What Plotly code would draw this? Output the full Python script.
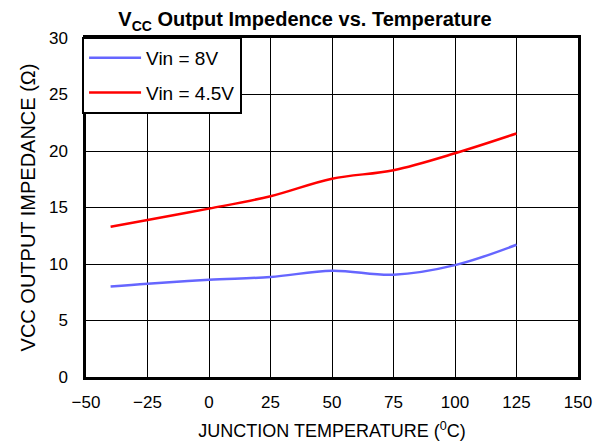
import plotly.graph_objects as go

temps = [-40, -25, 0, 25, 50, 75, 100, 125]
vin8 = [8.0, 8.25, 8.6, 8.85, 9.4, 9.05, 9.9, 11.7]
vin45 = [13.3, 13.9, 14.9, 16.0, 17.55, 18.3, 19.8, 21.55]

x_ticks = [-50, -25, 0, 25, 50, 75, 100, 125, 150]
y_ticks = [0, 5, 10, 15, 20, 25, 30]

font = "Liberation Sans, Arial, sans-serif"

fig = go.Figure()
fig.add_trace(go.Scatter(x=temps, y=vin8, mode="lines", name="Vin = 8V",
                         legendgroup="a",
                         line=dict(color="#6666ff", width=2.5, shape="spline")))
fig.add_trace(go.Scatter(x=temps, y=vin45, mode="lines", name="Vin = 4.5V",
                         legendgroup="b",
                         line=dict(color="#ff0000", width=2.5, shape="spline")))

fig.update_layout(
    width=606, height=444,
    margin=dict(l=78, r=36, t=30, b=75),
    paper_bgcolor="white", plot_bgcolor="white",
    font=dict(family=font, size=17, color="black"),
    title=dict(text="<b>V<sub>CC</sub> Output Impedence vs. Temperature</b>",
               x=0.49, xanchor="center", y=0.99, yanchor="top",
               font=dict(size=20, family=font)),
    legend=dict(x=-0.008, y=1.003, xanchor="left", yanchor="top",
                bgcolor="white", bordercolor="black", borderwidth=2,
                font=dict(size=19, family=font), traceorder="grouped",
                tracegroupgap=7, itemwidth=52),
    xaxis=dict(range=[-50, 150], tickvals=x_ticks, showgrid=True,
               gridcolor="black", gridwidth=1, showline=True, linecolor="black",
               linewidth=2.5, mirror=True, ticks="", zeroline=False,
               ticklabelstandoff=8,
               title=dict(text="JUNCTION TEMPERATURE (<sup>0</sup>C)", standoff=14,
                          font=dict(size=18)),
               tickfont=dict(size=17)),
    yaxis=dict(range=[0, 30], tickvals=y_ticks, showgrid=True,
               gridcolor="black", gridwidth=1, showline=True, linecolor="black",
               linewidth=2.5, mirror=True, ticks="", zeroline=False,
               ticklabelstandoff=12,
               title=dict(text="VCC OUTPUT IMPEDANCE (Ω)", standoff=8,
                          font=dict(size=20)),
               tickfont=dict(size=17)),
)

fig.write_html("out.html")
